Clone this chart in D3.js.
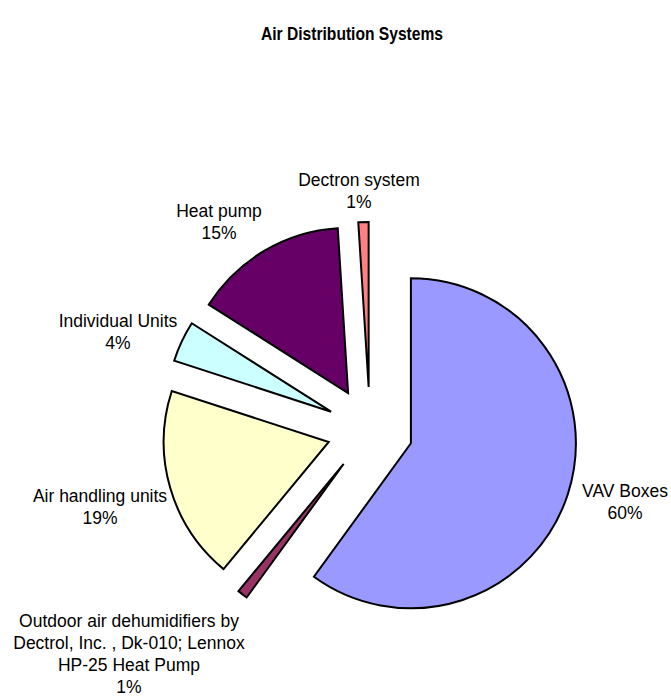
<!DOCTYPE html>
<html>
<head>
<meta charset="utf-8">
<script src="https://cdn.jsdelivr.net/npm/d3@7"></script>
<style>
  body { margin: 0; background: #fff; }
  text { font-family: "Liberation Sans", Arial, sans-serif; fill: #000; }
  .title-label { font-weight: bold; font-size: 19px; }
  .slice-label { font-size: 17.5px; }
</style>
</head>
<body>
<svg width="671" height="698"></svg>
<script>
// chart data
const categories = [
  'VAV Boxes',
  'Outdoor air dehumidifiers by Dectrol, Inc. , Dk-010; Lennox HP-25 Heat Pump',
  'Air handling units',
  'Individual Units',
  'Heat pump',
  'Dectron system'
];
const values = [60, 1, 19, 4, 15, 1];
const percentLabels = ['60%', '1%', '19%', '4%', '15%', '1%'];
const colors = ['#9999ff', '#993366', '#ffffcc', '#ccffff', '#660066', '#ff8080'];

// label text wrapped the way the reference shows it
const labelLines = [
  ['VAV Boxes'],
  ['Outdoor air dehumidifiers by', 'Dectrol, Inc. , Dk-010; Lennox', 'HP-25 Heat Pump'],
  ['Air handling units'],
  ['Individual Units'],
  ['Heat pump'],
  ['Dectron system']
];
// where each label block sits (centre x, first baseline)
const labelPos = [[625, 497], [129, 627], [100, 502], [118, 327], [219, 217], [359, 186]];

const svg = d3.select('svg');
const height = +svg.attr('height');
const width = +svg.attr('width');

const render = () => {
  const title = 'Air Distribution Systems';
  const center = {x: 370, y: 430};
  const radius = 165;
  const explode = 43;
  const lineHeight = 22;

  const data = categories.map((c, i) => ({
    category: c, value: values[i], pct: percentLabels[i], color: colors[i],
    lines: labelLines[i], pos: labelPos[i]
  }));

  const pie = d3.pie().sort(null).value(d => d.value);
  const arc = d3.arc().innerRadius(0).outerRadius(radius);

  const g = svg.append('g')
    .attr('transform', `translate(${center.x}, ${center.y})`);

  // exploded slices, each pushed out along its middle angle
  g.selectAll('path').data(pie(data))
    .enter().append('path')
      .attr('d', arc)
      .attr('fill', d => d.data.color)
      .attr('stroke', '#000')
      .attr('stroke-width', 2)
      .attr('transform', d => {
        const mid = (d.startAngle + d.endAngle) / 2;
        return `translate(${explode * Math.sin(mid)}, ${-explode * Math.cos(mid)})`;
      });

  const labels = svg.selectAll('.slice-label').data(data)
    .enter().append('text')
      .attr('class', 'slice-label')
      .attr('text-anchor', 'middle');

  labels.each(function(d) {
    const t = d3.select(this);
    d.lines.concat([d.pct]).forEach((line, i) => {
      t.append('tspan')
        .attr('x', d.pos[0])
        .attr('y', d.pos[1] + i * lineHeight)
        .text(line);
    });
  });

  // title is drawn a bit condensed, like the original
  svg.append('text')
    .attr('class', 'title-label')
    .attr('x', 352)
    .attr('y', 40)
    .attr('text-anchor', 'middle')
    .attr('textLength', 182)
    .attr('lengthAdjust', 'spacingAndGlyphs')
    .text(title);
};

render();
</script>
</body>
</html>
